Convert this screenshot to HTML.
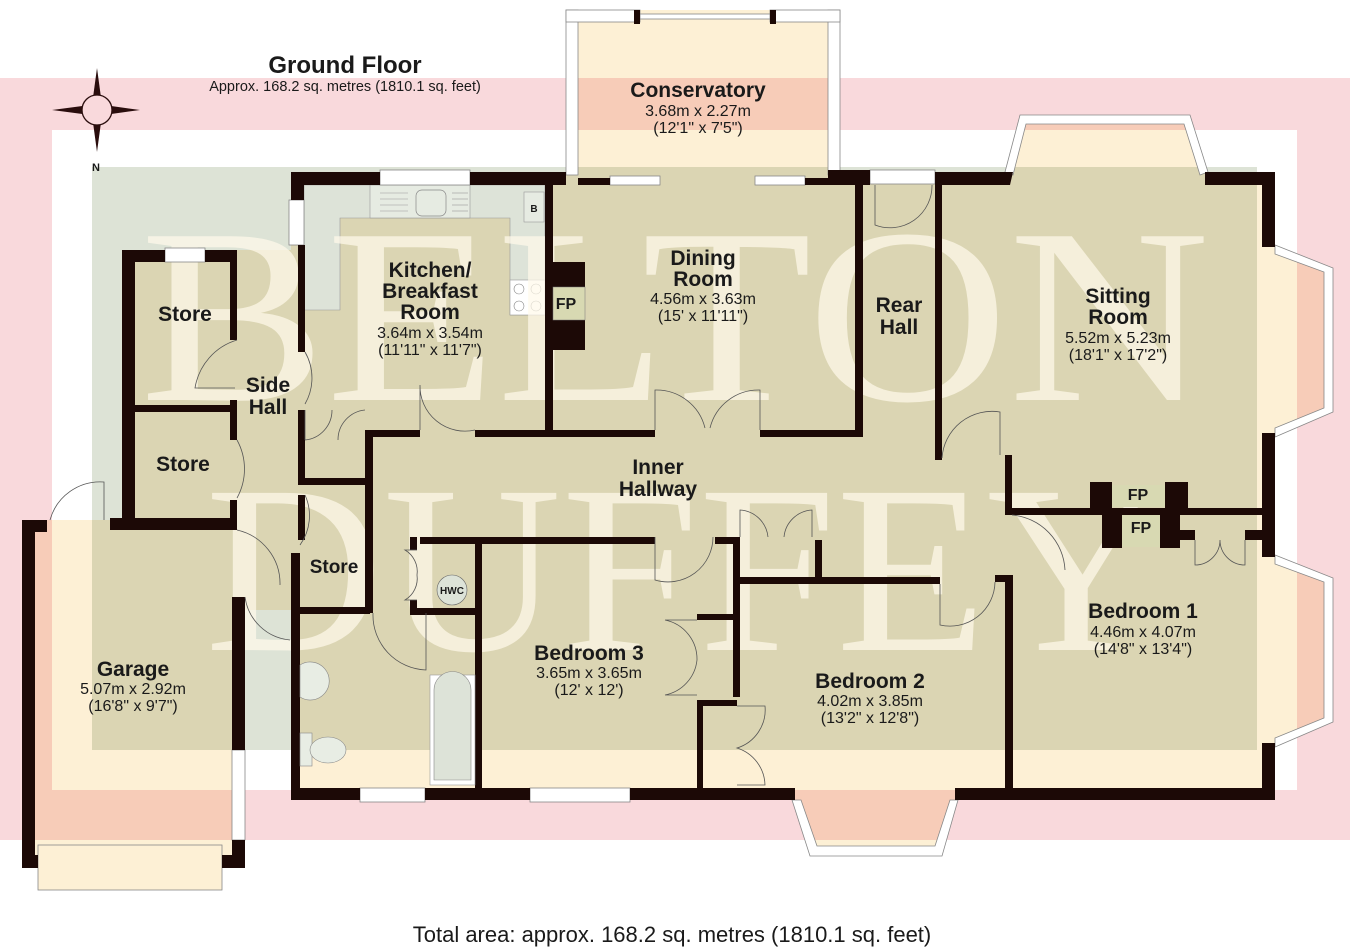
<!DOCTYPE html>
<html><head><meta charset="utf-8"><style>
html,body{margin:0;padding:0;background:#fff}
svg{display:block}
.w{fill:#1c0906}
.win{fill:#fff;stroke:#888;stroke-width:0.8}
.d{fill:none;stroke:#555;stroke-width:0.8}
.t{font-family:"Liberation Sans",sans-serif;fill:#1a1a1a;text-anchor:middle}
.b{font-weight:bold;font-size:21px}
.s{font-size:16px}
</style></head><body>
<svg width="1350" height="950" viewBox="0 0 1350 950" xmlns="http://www.w3.org/2000/svg">
<rect x="0" y="78" width="1350" height="762" fill="#f9d9dc"/>
<rect x="52" y="130" width="1245" height="660" fill="#fff"/>
<rect x="92" y="167" width="1165" height="583" fill="#dde3d6"/>
<g style="mix-blend-mode:multiply" fill="#fdf0d5">
<rect x="291" y="172" width="984" height="628"/>
<rect x="122" y="250" width="182" height="360"/>
<rect x="22" y="520" width="223" height="348"/>
<rect x="566" y="10" width="274" height="165"/>
<polygon points="1005,175 1020,118 1190,118 1208,175"/>
<polygon points="1272,245 1330,270 1330,410 1272,435"/>
<polygon points="1272,555 1330,580 1330,720 1272,745"/>
<polygon points="795,797 812,852 940,852 955,797"/>
</g>
<path d="M304,185 H545 V315 H510 V218 H340 V310 H304 Z" fill="#dde3d8" stroke="#999" stroke-width="0.6"/>
<rect x="370" y="185" width="100" height="33" fill="#e6ebe2" stroke="#999" stroke-width="0.6"/>
<rect x="416" y="190" width="30" height="26" rx="6" fill="none" stroke="#888" stroke-width="0.7"/>
<g stroke="#999" stroke-width="0.6"><line x1="380" y1="193" x2="408" y2="193"/><line x1="380" y1="199" x2="408" y2="199"/><line x1="380" y1="205" x2="408" y2="205"/><line x1="380" y1="211" x2="408" y2="211"/><line x1="452" y1="193" x2="468" y2="193"/><line x1="452" y1="199" x2="468" y2="199"/><line x1="452" y1="205" x2="468" y2="205"/><line x1="452" y1="211" x2="468" y2="211"/></g>
<rect x="524" y="192" width="20" height="30" fill="#e6ebe2" stroke="#999" stroke-width="0.6"/>
<text x="534" y="212" class="t" style="font-size:10px;font-weight:bold">B</text>
<rect x="510" y="280" width="35" height="35" fill="#fff" stroke="#999" stroke-width="0.6"/>
<g fill="none" stroke="#888" stroke-width="0.6"><circle cx="519" cy="289" r="5"/><circle cx="536" cy="289" r="5"/><circle cx="519" cy="306" r="5"/><circle cx="536" cy="306" r="5"/></g>
<g font-family="Liberation Serif,serif" fill="#fffaea" fill-opacity="0.72">
<text x="140" y="400" font-size="250" textLength="1070" lengthAdjust="spacingAndGlyphs">BELTON</text>
<text x="205" y="650" font-size="240" textLength="960" lengthAdjust="spacingAndGlyphs">DUFFEY</text>
</g>
<g class="win">
<rect x="566" y="10" width="12" height="165"/><rect x="828" y="10" width="12" height="165"/>
<rect x="566" y="10" width="74" height="12"/><rect x="770" y="10" width="70" height="12"/>
<rect x="640" y="14" width="130" height="5"/>
</g>
<rect x="634" y="10" width="6" height="14" class="w"/><rect x="770" y="10" width="6" height="14" class="w"/>
<g class="win">
<rect x="380" y="170" width="90" height="15"/>
<rect x="289" y="200" width="15" height="45"/>
<rect x="165" y="248" width="40" height="14"/>
<rect x="610" y="176" width="50" height="9"/><rect x="755" y="176" width="50" height="9"/>
<rect x="870" y="170" width="65" height="14"/>
<rect x="232" y="750" width="13" height="90"/>
<rect x="38" y="845" width="184" height="45" style="fill:#fdf0d5"/>
<rect x="360" y="788" width="65" height="14"/><rect x="530" y="788" width="100" height="14"/>
<polygon points="1005,172 1020,115 1190,115 1208,172 1200,175 1184,124 1026,124 1013,175"/>
<polygon points="1275,245 1333,268 1333,412 1275,437 1275,428 1324,408 1324,272 1275,254"/>
<polygon points="1275,555 1333,578 1333,722 1275,747 1275,738 1324,718 1324,582 1275,564"/>
<polygon points="792,800 810,856 942,856 958,800 950,800 935,846 817,846 801,800"/>
</g>
<g class="w">
<rect x="291" y="172" width="89" height="13"/><rect x="470" y="172" width="96" height="13"/>
<rect x="578" y="178" width="32" height="7"/><rect x="805" y="178" width="35" height="7"/>
<rect x="828" y="170" width="42" height="15"/>
<rect x="935" y="172" width="70" height="13"/><polygon points="1005,172 1013,172 1010,185 1000,185"/>
<rect x="1205" y="172" width="70" height="13"/>
<rect x="1262" y="172" width="13" height="75"/><rect x="1262" y="433" width="13" height="124"/><rect x="1262" y="743" width="13" height="57"/>
<rect x="291" y="788" width="69" height="12"/><rect x="425" y="788" width="105" height="12"/><rect x="630" y="788" width="165" height="12"/><rect x="955" y="788" width="320" height="12"/>
<rect x="291" y="185" width="13" height="15"/><rect x="298" y="245" width="7" height="107"/>
<rect x="545" y="185" width="8" height="250"/>
<rect x="553" y="262" width="32" height="25"/><rect x="553" y="320" width="32" height="30"/>
<rect x="370" y="430" width="50" height="7"/><rect x="475" y="430" width="180" height="7"/><rect x="760" y="430" width="102" height="7"/>
<rect x="855" y="185" width="8" height="252"/><rect x="935" y="185" width="7" height="275"/>
<rect x="1005" y="455" width="7" height="60"/><rect x="1005" y="508" width="257" height="7"/>
<rect x="1090" y="482" width="22" height="28"/><rect x="1165" y="482" width="23" height="28"/>
<rect x="1102" y="510" width="20" height="38"/><rect x="1160" y="510" width="20" height="38"/><rect x="1180" y="530" width="15" height="10"/><rect x="1245" y="530" width="17" height="10"/>
<rect x="1005" y="575" width="8" height="213"/><rect x="995" y="575" width="17" height="7"/>
<rect x="735" y="577" width="205" height="7"/><rect x="815" y="540" width="7" height="40"/>
<rect x="420" y="537" width="235" height="7"/><rect x="715" y="537" width="25" height="7"/>
<rect x="733" y="537" width="7" height="160"/><rect x="697" y="614" width="40" height="6"/><rect x="697" y="700" width="40" height="6"/><rect x="697" y="700" width="6" height="88"/>
<rect x="475" y="537" width="7" height="251"/>
<rect x="410" y="537" width="7" height="13"/><rect x="410" y="600" width="7" height="14"/><rect x="410" y="608" width="70" height="7"/>
<rect x="291" y="607" width="79" height="7"/><rect x="291" y="553" width="9" height="247"/>
<rect x="365" y="430" width="8" height="183"/><rect x="298" y="478" width="70" height="7"/>
<rect x="298" y="410" width="7" height="68"/><rect x="298" y="495" width="7" height="45"/>
<rect x="122" y="250" width="13" height="280"/><rect x="122" y="250" width="43" height="12"/><rect x="205" y="250" width="32" height="12"/>
<rect x="230" y="250" width="7" height="90"/><rect x="135" y="405" width="100" height="7"/><rect x="230" y="400" width="7" height="40"/><rect x="230" y="500" width="7" height="30"/>
<rect x="110" y="518" width="127" height="12"/>
<rect x="22" y="520" width="13" height="348"/><rect x="22" y="520" width="25" height="12"/>
<rect x="232" y="597" width="13" height="153"/><rect x="232" y="840" width="13" height="28"/>
<rect x="22" y="855" width="16" height="13"/><rect x="222" y="855" width="23" height="13"/>
</g>
<rect x="553" y="287" width="32" height="33" fill="#d8d9b2" stroke="#777" stroke-width="0.5"/>
<rect x="1112" y="485" width="53" height="22" fill="#d8d9b2"/>
<rect x="1122" y="515" width="38" height="32" fill="#d8d9b2"/>
<g class="d">
<path d="M237,340 A60,60 0 0 0 195,388 H235"/>
<path d="M237,440 A60,60 0 0 1 237,498"/>
<path d="M305,352 A52,52 0 0 1 305,404"/>
<path d="M305,410 V440 M305,440 A30,30 0 0 0 332,410 M365,410 A30,30 0 0 0 338,440"/>
<path d="M305,495 A50,50 0 0 1 300,545"/>
<path d="M237,530 A55,55 0 0 1 280,585"/>
<path d="M245,597 A50,50 0 0 0 290,640"/>
<path d="M50,520 A52,52 0 0 1 104,482 V520"/>
<path d="M420,430 V385 A45,45 0 0 0 475,430"/>
<path d="M655,430 V390 A50,50 0 0 1 705,428 M760,430 V390 A50,50 0 0 0 710,428"/>
<path d="M875,185 V225 A42,42 0 0 0 932,185"/>
<path d="M942,458 A50,50 0 0 1 1000,412 V455"/>
<path d="M1012,515 A58,58 0 0 1 1065,570"/>
<path d="M940,584 V625 A45,45 0 0 0 995,582"/>
<path d="M655,537 V580 A45,45 0 0 0 713,537"/>
<path d="M740,537 V510 A30,30 0 0 1 768,537 M812,537 V510 A30,30 0 0 0 784,537"/>
<path d="M697,620 H665 A40,40 0 0 1 697,660 A40,40 0 0 1 665,695 H697"/>
<path d="M737,706 H765 A40,40 0 0 1 737,748 A40,40 0 0 1 765,785 H737"/>
<path d="M417,550 H405 A25,25 0 0 1 417,575 A25,25 0 0 1 405,600 H417"/>
<path d="M373,613 A55,55 0 0 0 426,670 V613"/>
<path d="M1195,540 V565 A25,25 0 0 0 1220,540 A25,25 0 0 0 1245,565 V540"/>
</g>
<rect x="430" y="675" width="45" height="110" fill="#fff" stroke="#999" stroke-width="0.6"/>
<path d="M434,780 V690 A18,18 0 0 1 471,690 V780 Z" fill="#dde3d8" stroke="#888" stroke-width="0.6"/>
<path d="M300,665 A19,19 0 1 1 300,697 Z" fill="#e8ede4" stroke="#888" stroke-width="0.6"/>
<rect x="300" y="733" width="12" height="33" fill="#e8ede4" stroke="#888" stroke-width="0.6"/>
<ellipse cx="328" cy="750" rx="18" ry="13" fill="#e8ede4" stroke="#888" stroke-width="0.6"/>
<circle cx="452" cy="590" r="15" fill="#dde3d8" stroke="#666" stroke-width="0.6"/>
<text x="452" y="594" class="t" style="font-size:10px;font-weight:bold">HWC</text>
<g>
<polygon points="97,68 102,105 97,110 92,105" fill="#2a0d0d"/>
<polygon points="97,152 102,115 97,110 92,115" fill="#2a0d0d"/>
<polygon points="52,110 90,105 97,110 90,115" fill="#2a0d0d"/>
<polygon points="140,110 104,105 97,110 104,115" fill="#2a0d0d"/>
<circle cx="97" cy="110" r="15" fill="#f9d9dc" stroke="#2a0d0d" stroke-width="1.3"/>
<text x="96" y="171" class="t" style="font-size:11px;font-weight:bold">N</text>
</g>
<text x="345" y="73" class="t" style="font-size:24px;font-weight:bold">Ground Floor</text>
<text x="345" y="91" class="t" style="font-size:14.5px">Approx. 168.2 sq. metres (1810.1 sq. feet)</text>
<text x="698" y="97" class="t b">Conservatory</text><text x="698" y="116" class="t s">3.68m x 2.27m</text><text x="698" y="133" class="t s">(12'1" x 7'5")</text>
<text x="430" y="277" class="t b">Kitchen/</text><text x="430" y="298" class="t b">Breakfast</text><text x="430" y="319" class="t b">Room</text><text x="430" y="338" class="t s">3.64m x 3.54m</text><text x="430" y="355" class="t s">(11'11" x 11'7")</text>
<text x="566" y="309" class="t" style="font-size:16px;font-weight:bold">FP</text>
<text x="703" y="265" class="t b">Dining</text><text x="703" y="286" class="t b">Room</text><text x="703" y="304" class="t s">4.56m x 3.63m</text><text x="703" y="321" class="t s">(15' x 11'11")</text>
<text x="899" y="312" class="t b">Rear</text><text x="899" y="334" class="t b">Hall</text>
<text x="1118" y="303" class="t b">Sitting</text><text x="1118" y="324" class="t b">Room</text><text x="1118" y="343" class="t s">5.52m x 5.23m</text><text x="1118" y="360" class="t s">(18'1" x 17'2")</text>
<text x="1138" y="500" class="t" style="font-size:16px;font-weight:bold">FP</text><text x="1141" y="533" class="t" style="font-size:16px;font-weight:bold">FP</text>
<text x="185" y="321" class="t b">Store</text>
<text x="268" y="392" class="t b">Side</text><text x="268" y="414" class="t b">Hall</text>
<text x="183" y="471" class="t b">Store</text>
<text x="334" y="573" class="t" style="font-size:19px;font-weight:bold">Store</text>
<text x="658" y="474" class="t b">Inner</text><text x="658" y="496" class="t b">Hallway</text>
<text x="589" y="660" class="t b">Bedroom 3</text><text x="589" y="678" class="t s">3.65m x 3.65m</text><text x="589" y="695" class="t s">(12' x 12')</text>
<text x="870" y="688" class="t b">Bedroom 2</text><text x="870" y="706" class="t s">4.02m x 3.85m</text><text x="870" y="723" class="t s">(13'2" x 12'8")</text>
<text x="1143" y="618" class="t b">Bedroom 1</text><text x="1143" y="637" class="t s">4.46m x 4.07m</text><text x="1143" y="654" class="t s">(14'8" x 13'4")</text>
<text x="133" y="676" class="t b">Garage</text><text x="133" y="694" class="t s">5.07m x 2.92m</text><text x="133" y="711" class="t s">(16'8" x 9'7")</text>
<text x="672" y="942" class="t" style="font-size:22px">Total area: approx. 168.2 sq. metres (1810.1 sq. feet)</text>
</svg>
</body></html>
